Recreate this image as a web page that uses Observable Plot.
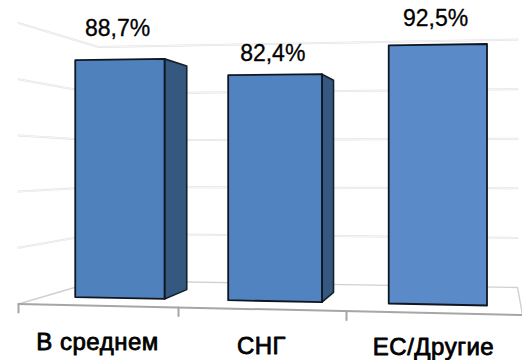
<!DOCTYPE html>
<html>
<head>
<meta charset="utf-8">
<script src="https://cdn.jsdelivr.net/npm/d3@7"></script>
<script src="https://cdn.jsdelivr.net/npm/@observablehq/plot@0.6"></script>
<style>
  html, body { margin: 0; padding: 0; background: #fff; }
  svg { display: block; }
  .category-label text { letter-spacing: 0.5px; }
</style>
</head>
<body>
<div id="chart"></div>
<script>
// Share of responses per group, percent
const categories = ["В среднем", "СНГ", "ЕС/Другие"];
const values = [88.7, 82.4, 92.5];
const valueLabels = ["88,7%", "82,4%", "92,5%"];
const gridLevels = [20, 40, 60, 80, 100];
const tickSlots = [0, 1, 2];

// Layout of the 3D scene, in chart units
const frontFill = ["#4f81bd", "#5083bf", "#5a8bc8"];
const sideFill = "#34587f";
const labelLift = [11.4, 7.6, 9.4];
const categoryDrop = [12.7, 12.7, 11.6];
const barInset = 0.21, barWidth = 0.59, barNear = 0.32, barFar = 0.7;

// Perspective box: u runs along the categories (0..3), v is the percentage,
// d is the depth from the front edge (0) to the back wall (1).
function project(u, v, d) {
  const frontU = 0.9286 * u + 0.0238 * u * u;
  const backU = 0.476 + 0.771 * u + 0.0202 * u * u;
  const U = frontU + (backU - frontU) * d;
  const frontFloor = -1.3 * frontU;
  const backFloor = 8.36 - 0.998 * (backU - 0.476);
  const floor = frontFloor + (backFloor - frontFloor) * d;
  const frontH = 1 + 0.0235 * u;
  const backH = 0.831 + 0.0171 * u;
  const H = frontH + (backH - frontH) * d;
  return {U, V: floor + v * H};
}

const polyline = (id, corners) =>
  corners.map(([u, v, d]) => ({id, ...project(u, v, d)}));

const gridPaths = gridLevels.flatMap((v) =>
  polyline(v, [[0, v, 0], [0, v, 1], [3, v, 1]]));
const floorBack = polyline("floor", [[0, 0, 0], [0, 0, 1], [3, 0, 1], [3, 0, 0]]);
const axisLine = polyline("axis", [[0, 0, 0], [3, 0, 0]]);
const ticks = tickSlots.flatMap((t) =>
  polyline(t, [[t, 0, 0], [t, -3, 0]]));

const fronts = values.flatMap((value, i) => {
  const a = i + barInset, b = a + barWidth;
  return polyline(i, [[a, 0, barNear], [b, 0, barNear], [b, value, barNear], [a, value, barNear]])
    .map((p) => ({...p, fill: frontFill[i]}));
});

// The side wall is only seen while its far edge sticks out past the front face
const sides = values.flatMap((value, i) => {
  const b = i + barInset + barWidth;
  if (project(b, 0, barFar).U <= project(b, 0, barNear).U + 0.01) return [];
  return polyline(i, [[b, 0, barNear], [b, 0, barFar], [b, value, barFar], [b, value, barNear]]);
});

const valueMarks = values.map((value, i) => ({
  text: valueLabels[i],
  ...project(i + barInset + barWidth / 2, value + labelLift[i], barNear)
}));
const categoryMarks = categories.map((text, i) => ({
  text,
  ...project(i + 0.5, -categoryDrop[i], 0)
}));

const font = "Liberation Sans, Arial, sans-serif";
const guide = {x: "U", y: "V", z: "id"};

const chart = Plot.plot({
  width: 522,
  height: 360,
  margin: 0,
  x: {domain: [0, 3], range: [18, 522], axis: null},
  y: {domain: [0, 100], range: [303.5, 22.5], axis: null},
  marks: [
    Plot.line(gridPaths, {...guide, stroke: "#e2e2e2", strokeWidth: 2}),
    Plot.line(gridPaths, {...guide, stroke: "#fafafa", strokeWidth: 0.8}),
    Plot.line(floorBack, {...guide, stroke: "#d0d0d0", strokeWidth: 1.4}),
    Plot.line(axisLine, {...guide, stroke: "#a6a6a6", strokeWidth: 2}),
    Plot.line(ticks, {...guide, stroke: "#a6a6a6", strokeWidth: 2}),
    Plot.line(sides, {...guide, curve: "linear-closed", fill: sideFill, stroke: "#16202c", strokeWidth: 1.6}),
    Plot.line(fronts, {...guide, curve: "linear-closed", fill: "fill", stroke: "#0f1620", strokeWidth: 1.8}),
    Plot.text(valueMarks, {x: "U", y: "V", text: "text", dx: -2, fontSize: 23, fontFamily: font, fill: "#000", stroke: "#000", strokeWidth: 0.3}),
    Plot.text(categoryMarks, {x: "U", y: "V", text: "text", fontSize: 24, fontFamily: font, fill: "#000", stroke: "#000", strokeWidth: 0.8, className: "category-label"})
  ]
});
document.getElementById("chart").appendChild(chart);
</script>
</body>
</html>
